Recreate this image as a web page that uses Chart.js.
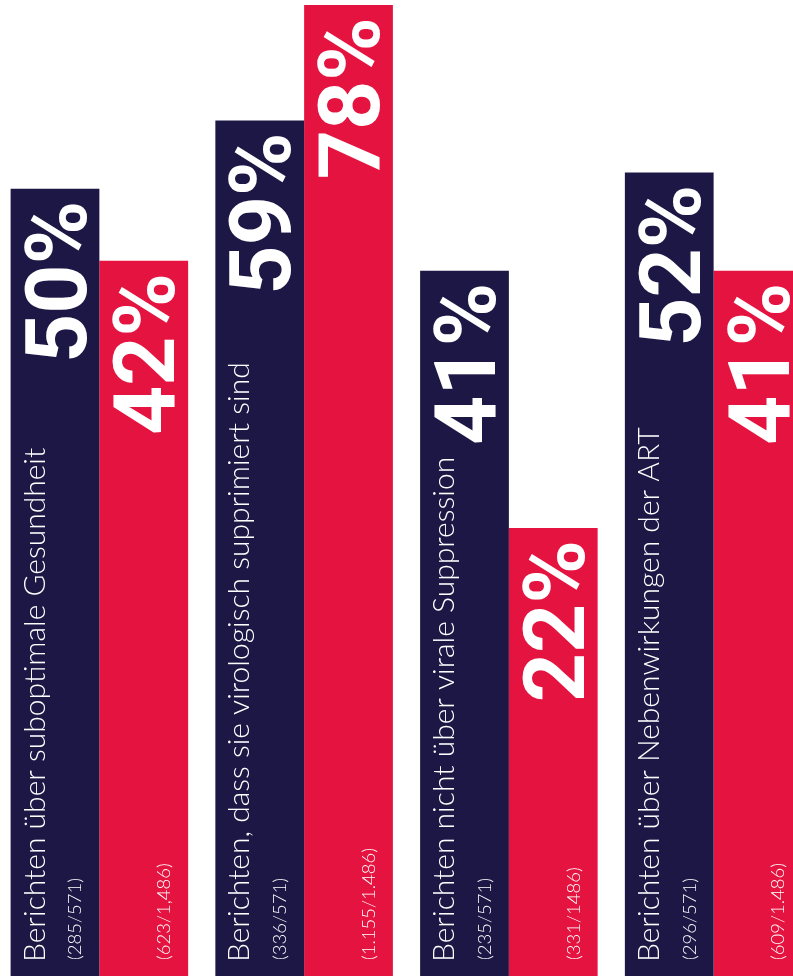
<!DOCTYPE html>
<html lang="de">
<head>
<meta charset="utf-8">
<script src="https://cdn.jsdelivr.net/npm/chart.js@4"></script>
<style>
    html, body { margin: 0; padding: 0; background: #ffffff; overflow: hidden; }
    body { width: 793px; height: 976px; position: relative; }
    #wrap { position: absolute; left: -3px; top: 0; width: 819px; height: 976px; }
</style>
</head>
<body>
<div id="wrap"><canvas id="chart"></canvas></div>
<script>
// --- DONNÉES ---
const categories = [
    'Berichten über suboptimale Gesundheit',
    'Berichten, dass sie virologisch supprimiert sind',
    'Berichten nicht über virale Suppression',
    'Berichten über Nebenwirkungen der ART'
];
const navyValues = [50, 59, 41, 52];
const redValues = [42, 78, 22, 41];
const navyCounts = ['(285/571)', '(336/571)', '(235/571)', '(296/571)'];
const redCounts = ['(623/1,486)', '(1.155/1.486)', '(331/1486)', '(609/1.486)'];

const NAVY = '#1c1745';
const RED = '#e5133f';

// Plugin pour les étiquettes tournées dans les barres
const barLabels = {
    id: 'barLabels',
    afterDatasetsDraw(chart) {
        const ctx = chart.ctx;
        chart.data.datasets.forEach((ds, i) => {
            const meta = chart.getDatasetMeta(i);
            meta.data.forEach((bar, j) => {
                const p = bar.getProps(['x', 'y', 'width'], true);
                const left = p.x - p.width / 2;
                const right = p.x + p.width / 2;

                ctx.save();
                ctx.fillStyle = '#ffffff';

                // pourcentage
                const size = 86;
                ctx.font = '700 ' + size + 'px Roboto';
                ctx.textAlign = 'right';
                ctx.textBaseline = 'alphabetic';
                ctx.save();
                ctx.translate(p.x + size * 0.711 / 2, Math.max(p.y, 0) + 12);
                ctx.rotate(-Math.PI / 2);
                ctx.fillText(ds.data[j] + '%', 0, 0);
                ctx.restore();

                // catégorie (seulement sur la barre foncée)
                ctx.textAlign = 'left';
                if (i === 0) {
                    ctx.font = '300 30px Lato';
                    ctx.save();
                    ctx.translate(left + 34, 962);
                    ctx.rotate(-Math.PI / 2);
                    ctx.fillText(categories[j], 0, 0);
                    ctx.restore();
                }

                // effectifs
                ctx.font = '300 18.5px Lato';
                ctx.save();
                ctx.translate(right - 18, 960);
                ctx.rotate(-Math.PI / 2);
                ctx.fillText(ds.counts[j], 0, 0);
                ctx.restore();

                ctx.restore();
            });
        });
    }
};

new Chart(document.getElementById('chart'), {
    type: 'bar',
    data: {
        labels: categories,
        datasets: [
            { data: navyValues, counts: navyCounts, backgroundColor: NAVY },
            { data: redValues, counts: redCounts, backgroundColor: RED }
        ]
    },
    options: {
        responsive: true,
        maintainAspectRatio: false,
        animation: false,
        layout: { padding: 0 },
        categoryPercentage: 0.867,
        barPercentage: 1.0,
        plugins: { legend: { display: false }, tooltip: { enabled: false } },
        scales: {
            x: { display: false },
            y: { type: 'logarithmic', display: false, min: 7.44, max: 78.96, bounds: 'data' }
        }
    },
    plugins: [barLabels]
});
</script>
</body>
</html>
